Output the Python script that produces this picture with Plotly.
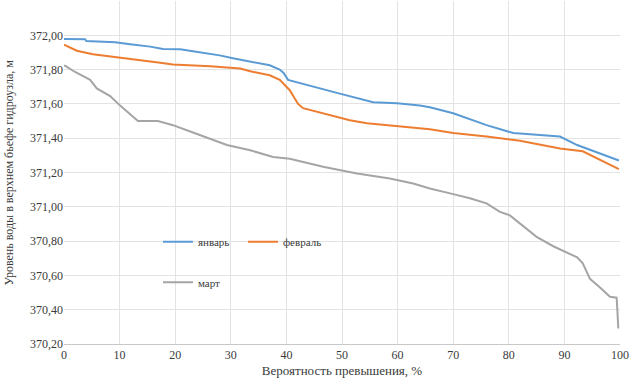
import plotly.graph_objects as go

# Probability of exceedance, % and water levels, m
jan_x = [0, 3.8, 4.0, 9.2, 11.9, 15.5, 17.8, 20.9, 23.2, 28.0, 30.4, 33.5, 37.0, 38.8, 39.5, 40.3, 43.7,
         49.6, 55.6, 59.9, 64.0, 65.8, 70.0, 76.0, 80.8, 89.2, 92.3, 99.8]
jan_y = [371.978, 371.977, 371.967, 371.96, 371.948, 371.934, 371.92, 371.918, 371.907, 371.883, 371.866,
         371.845, 371.825, 371.80, 371.78, 371.74, 371.71, 371.66, 371.61, 371.604, 371.59, 371.58,
         371.545, 371.476, 371.43, 371.41, 371.36, 371.27]

feb_x = [0, 0.3, 2.3, 5.2, 8.3, 11.3, 14.2, 17.3, 19.6, 26.3, 31.7, 33.5, 37.0, 38.8, 40.6, 42.1, 43.0,
         46.6, 51.4, 54.5, 60.4, 65.8, 70.0, 76.0, 82.0, 89.2, 93.3, 99.8]
feb_y = [371.945, 371.94, 371.91, 371.89, 371.878, 371.864, 371.854, 371.84, 371.83, 371.82, 371.806,
         371.79, 371.767, 371.74, 371.68, 371.60, 371.575, 371.545, 371.505, 371.487, 371.47, 371.452,
         371.43, 371.41, 371.385, 371.34, 371.324, 371.22]

mar_x = [0, 0.3, 2.0, 4.7, 5.9, 8.3, 10.1, 13.3, 16.9, 19.6, 23.2, 26.3, 29.3, 33.5, 37.6, 40.6, 46.6,
         52.7, 58.6, 62.8, 65.8, 70.0, 73.0, 76.0, 78.4, 80.2, 82.6, 85.0, 88.0, 90.1, 92.3, 93.3, 94.6,
         96.4, 98.2, 99.4, 99.7]
mar_y = [371.825, 371.82, 371.786, 371.74, 371.69, 371.646, 371.59, 371.50, 371.50, 371.476, 371.433,
         371.394, 371.36, 371.33, 371.29, 371.28, 371.233, 371.194, 371.165, 371.136, 371.107, 371.074,
         371.05, 371.02, 370.97, 370.95, 370.89, 370.825, 370.77, 370.74, 370.705, 370.67, 370.58,
         370.53, 370.475, 370.47, 370.29]

y_ticks = [370.2, 370.4, 370.6, 370.8, 371.0, 371.2, 371.4, 371.6, 371.8, 372.0]
y_tick_text = ["370,20", "370,40", "370,60", "370,80", "371,00", "371,20", "371,40", "371,60", "371,80", "372,00"]
x_ticks = [0, 10, 20, 30, 40, 50, 60, 70, 80, 90, 100]
y_title = "Уровень воды в верхнем бьефе гидроузла, м"
x_title = "Вероятность превышения, %"

FONT = "Times New Roman, Liberation Serif, serif"
TXT = "#3a3a3a"

fig = go.Figure()
fig.add_trace(go.Scatter(x=jan_x, y=jan_y, name="январь", mode="lines", cliponaxis=False,
                         line=dict(color="#5B9BD5", width=2), legend="legend"))
fig.add_trace(go.Scatter(x=feb_x, y=feb_y, name="февраль", mode="lines", cliponaxis=False,
                         line=dict(color="#ED7D31", width=2), legend="legend"))
fig.add_trace(go.Scatter(x=mar_x, y=mar_y, name="март", mode="lines", cliponaxis=False,
                         line=dict(color="#A5A5A5", width=2), legend="legend2"))

fig.update_layout(
    width=630, height=386,
    margin=dict(l=64, r=10, t=1, b=42),
    paper_bgcolor="white", plot_bgcolor="white",
    font=dict(family=FONT, size=12, color=TXT),
    legend=dict(orientation="h", x=0.169, y=0.298, xanchor="left", yanchor="middle",
                bgcolor="rgba(0,0,0,0)", font=dict(size=11, family=FONT, color=TXT),
                itemwidth=30, entrywidth=40, traceorder="normal"),
    legend2=dict(orientation="h", x=0.169, y=0.18, xanchor="left", yanchor="middle",
                 bgcolor="rgba(0,0,0,0)", font=dict(size=11, family=FONT, color=TXT),
                 itemwidth=30),
    annotations=[dict(text=y_title, textangle=-90, xref="paper", yref="paper", x=0, y=0.5,
                      xanchor="center", yanchor="middle", xshift=-56, showarrow=False,
                      font=dict(size=12, family=FONT, color=TXT))],
)
fig.update_xaxes(range=[0, 100], tickvals=x_ticks, showgrid=True, gridcolor="#e3e3e3",
                 showline=True, linecolor="#c8c8c8", zeroline=False, ticks="", automargin=False,
                 tickfont=dict(size=12, family=FONT, color=TXT),
                 title=dict(text=x_title, font=dict(size=13, family=FONT, color=TXT), standoff=4))
fig.update_yaxes(range=[370.2, 372.2], tickvals=y_ticks, ticktext=y_tick_text, showgrid=True,
                 gridcolor="#e3e3e3", zeroline=False, showline=False, ticks="", automargin=False,
                 tickfont=dict(size=12, family=FONT, color=TXT))

fig.write_html("out.html", config={"displayModeBar": False},
               post_script="document.body.style.margin='0px';")
